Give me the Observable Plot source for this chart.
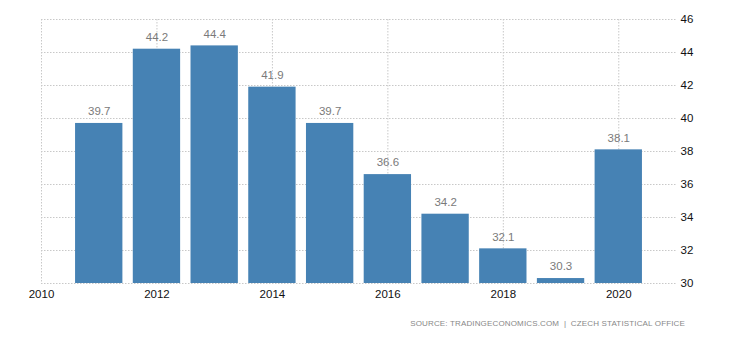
<!DOCTYPE html>
<html><head><meta charset="utf-8">
<script src="https://cdn.jsdelivr.net/npm/d3@7"></script>
<script src="https://cdn.jsdelivr.net/npm/@observablehq/plot@0.6"></script>
<style>
body{margin:0;background:#fff;font-family:"Liberation Sans",Arial,sans-serif;}
#wrap{position:relative;width:730px;height:340px;}
#cap{position:absolute;right:45px;top:319px;font-size:8px;color:#888;letter-spacing:0.15px;white-space:nowrap;}
</style></head>
<body><div id="wrap"><div id="chart"></div><div id="cap">SOURCE: TRADINGECONOMICS.COM &nbsp;|&nbsp; CZECH STATISTICAL OFFICE</div></div>
<script>
const years = [2011,2012,2013,2014,2015,2016,2017,2018,2019,2020];
const values = [39.7,44.2,44.4,41.9,39.7,36.6,34.2,32.1,30.3,38.1];
const xTicks = [2010,2012,2014,2016,2018,2020];
const yTicks = [30,32,34,36,38,40,42,44,46];
const data = years.map((y,i)=>({year:y, value:values[i]}));
const grid = {stroke:"#c8c8c8", strokeDasharray:"1.5,1.5", strokeWidth:1};
const chart = Plot.plot({
  width:730, height:310,
  marginLeft:41, marginRight:54, marginTop:19, marginBottom:27,
  style:{fontFamily:"Liberation Sans, Arial, sans-serif", fontSize:"11.5px", color:"#111"},
  x:{type:"linear", domain:[2010,2021], ticks:xTicks, tickFormat:d=>String(d)},
  y:{domain:[30,46], ticks:yTicks},
  marks:[
    Plot.ruleY(yTicks,{...grid}),
    Plot.ruleX(xTicks,{...grid}),
    Plot.rectY(data,{x1:d=>d.year-0.41,x2:d=>d.year+0.41,y1:30,y2:"value",fill:"#4682b4"}),
    Plot.text(data,{x:"year",y:"value",text:d=>d.value.toFixed(1),dy:-12,fill:"#7a7a7a",fontSize:11.5}),
    Plot.axisX(xTicks,{tickSize:0,tickPadding:6,label:null,fill:"#111",fontSize:11.5,tickFormat:d=>String(d)}),
    Plot.axisY(yTicks,{anchor:"right",tickSize:0,tickPadding:4,label:null,fill:"#111",fontSize:11.5})
  ]
});
document.getElementById("chart").appendChild(chart);
</script></body></html>
